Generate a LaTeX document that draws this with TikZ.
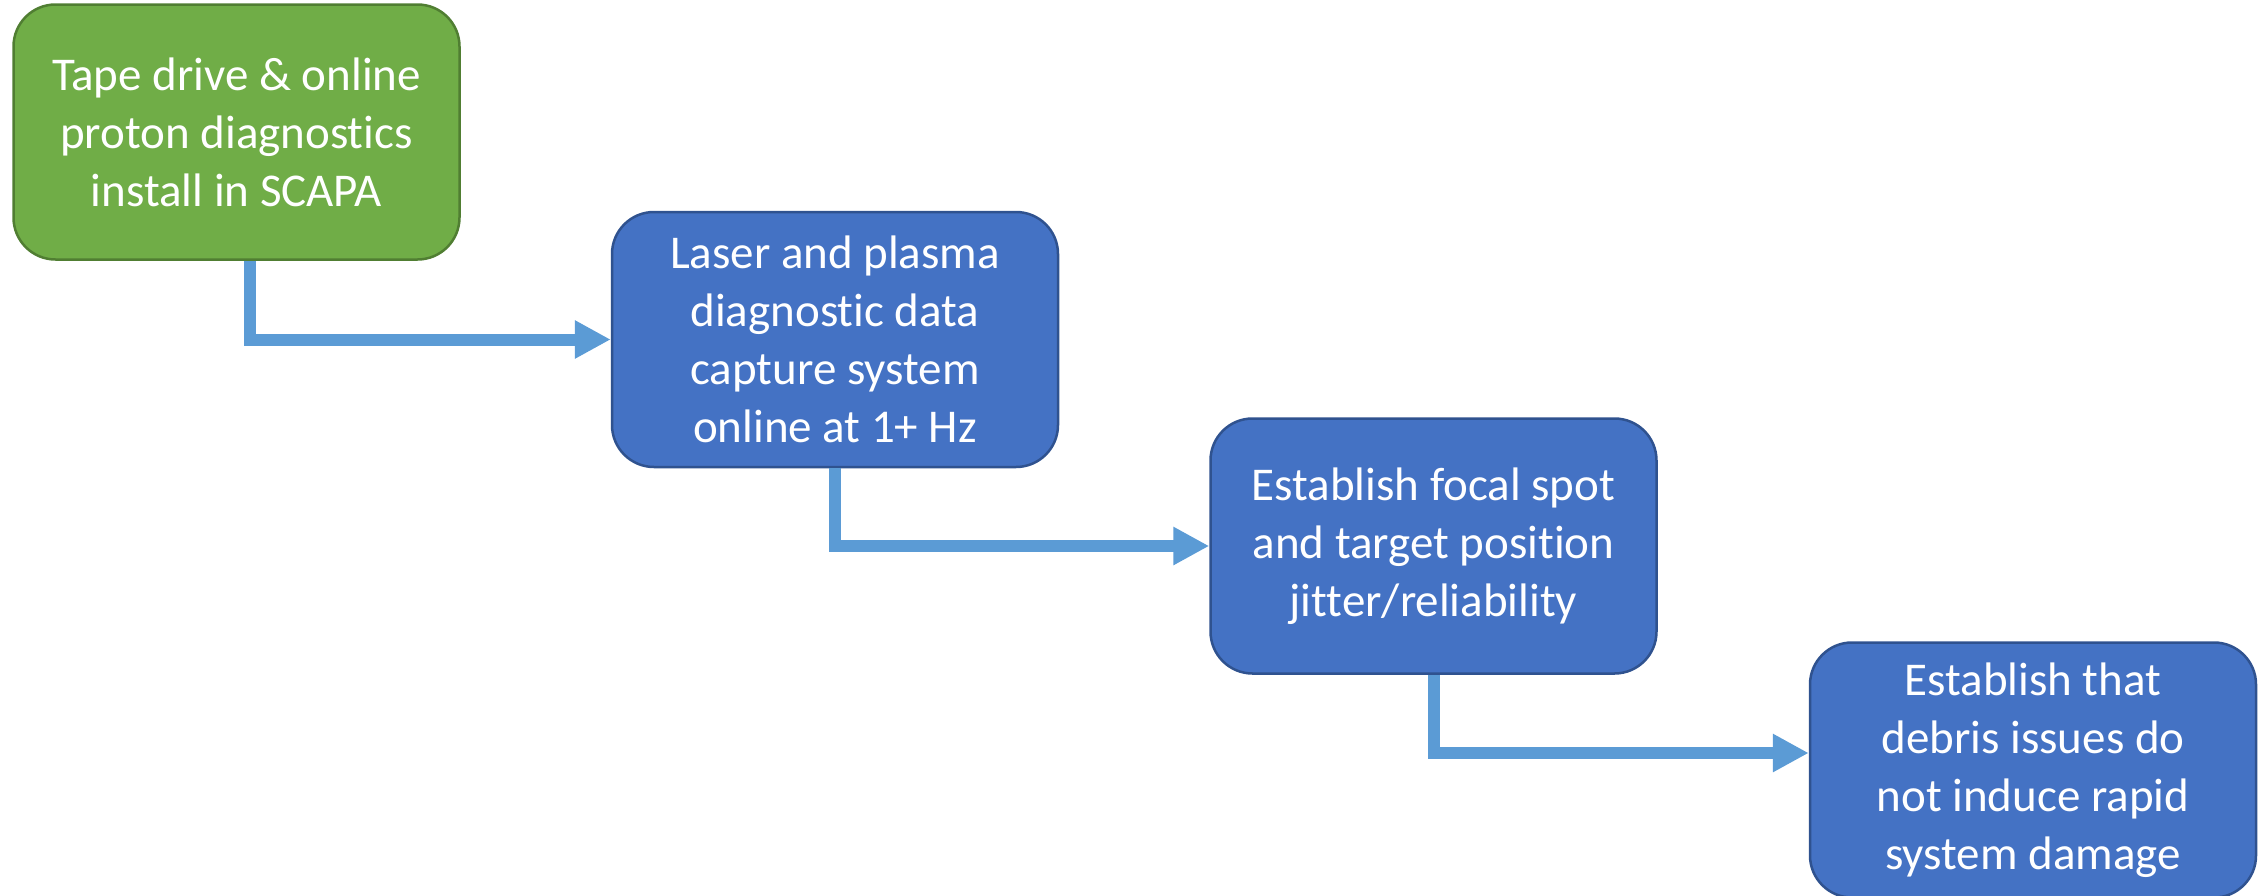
\documentclass[tikz,border=0pt]{standalone}
\usepackage{fontspec}
\setmainfont{Carlito}[RawFeature={-liga;-clig;-calt;-dlig}]
\usetikzlibrary{arrows.meta,positioning,calc}
\definecolor{gfill}{HTML}{70AD47}
\definecolor{gline}{HTML}{507E32}
\definecolor{bfill}{HTML}{4472C4}
\definecolor{bline}{HTML}{2F528F}
\definecolor{arrowc}{HTML}{5B9BD5}
\begin{document}
\begin{tikzpicture}[x=1pt,y=-1pt,
  stepbox/.style={draw, line width=2.5pt, rounded corners=42pt, minimum width=446pt, minimum height=255pt,
    inner sep=0pt, align=center, text=white, font=\fontsize{47}{58}\selectfont},
  greenbox/.style={stepbox, fill=gfill, draw=gline},
  bluebox/.style={stepbox, fill=bfill, draw=bline},
  conn/.style={draw=arrowc, line width=12pt, -{Triangle[length=36pt,width=36pt]}}]
\useasboundingbox (0,0) rectangle (2265,895);
\node[greenbox] (b1) at (236.5,132) {Tape drive \& online\\proton diagnostics\\install in SCAPA};
\node[bluebox] (b2) at (835,339.5) {Laser and plasma\\diagnostic data\\capture system\\online at 1+ Hz};
\node[bluebox] (b3) at (1433.5,546) {Establish focal spot\\and target position\\jitter/reliability};
\node[bluebox] (b4) at (2033,770) {Establish that\\debris issues do\\not induce rapid\\system damage};
\draw[conn] ([xshift=13.5pt]b1.south) |- (b2.west);
\draw[conn] (b2.south) |- (b3.west);
\draw[conn] (b3.south) |- ([yshift=17pt]b4.west);
\end{tikzpicture}
\end{document}
